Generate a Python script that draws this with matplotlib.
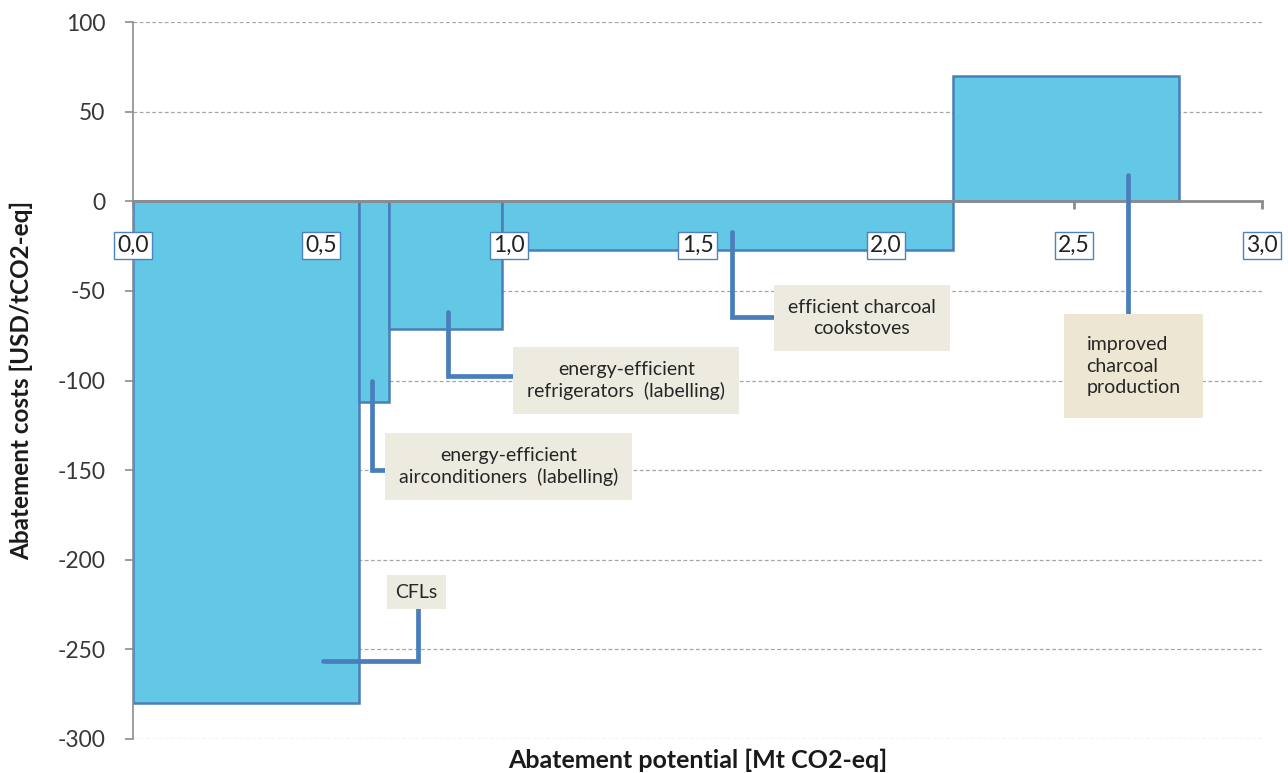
import matplotlib
matplotlib.use("Agg")
import matplotlib.pyplot as plt
import numpy as np

plt.rcParams['font.family'] = ['Lato', 'DejaVu Sans']

# Abatement measures (ordered by cost)
measures = ["CFLs",
            "energy-efficient\nairconditioners  (labelling)",
            "energy-efficient\nrefrigerators  (labelling)",
            "efficient charcoal\ncookstoves",
            "improved\ncharcoal\nproduction"]
potential = [0.60, 0.08, 0.30, 1.20, 0.60]      # Mt CO2-eq
cost = [-280, -112, -71, -27, 70]                # USD/tCO2-eq

x_ticks = [0.0, 0.5, 1.0, 1.5, 2.0, 2.5, 3.0]
x_tick_labels = ["0,0", "0,5", "1,0", "1,5", "2,0", "2,5", "3,0"]
y_ticks = [100, 50, 0, -50, -100, -150, -200, -250, -300]

# Leader-line paths (data coords) and label centres for each measure
leader_paths = [
    [(0.505, -256.6), (0.757, -256.6), (0.757, -227)],
    [(0.635, -100), (0.635, -150), (0.670, -150)],
    [(0.837, -62), (0.837, -97.6), (1.010, -97.6)],
    [(1.592, -17), (1.592, -64.7), (1.706, -64.7)],
    [(2.644, 14.5), (2.644, -64)],
]
label_pos = [(0.753, -218), (0.998, -148), (1.311, -100), (1.937, -65), (2.659, -92)]
label_align = ["center", "center", "center", "center", "left"]
label_pad = [0.45, 0.72, 0.72, 0.72, 1.15]
label_face = ["#edebe0", "#edebe0", "#edebe0", "#edebe0", "#ece6d2"]

fig = plt.figure(figsize=(12.88, 7.73), dpi=100)
ax = fig.add_axes([0.1033, 0.044, 0.9798 - 0.1033, 0.9715 - 0.044])
ax.set_axisbelow(True)

bar_fill = "#63c7e6"
bar_edge = "#4a7ebb"
lead_col = "#4a7ebb"

lefts = np.concatenate([[0], np.cumsum(potential)[:-1]])
ax.bar(lefts, cost, width=potential, align="edge", color=bar_fill,
       edgecolor=bar_edge, linewidth=1.8, zorder=2)

ax.set_xlim(0, 3.0)
ax.set_ylim(-300, 100)

# Gridlines
for yv in y_ticks:
    if yv != 0:
        ax.axhline(yv, color="#a6a6a6", lw=0.9, ls=(0, (3, 2)), zorder=0)

# Axes styling
for s in ["top", "right"]:
    ax.spines[s].set_visible(False)
ax.spines["bottom"].set_position(("data", 0))
ax.spines["bottom"].set_color("#8c8c8c")
ax.spines["bottom"].set_linewidth(2.0)
ax.spines["bottom"].set_zorder(3)
ax.spines["left"].set_color("#8c8c8c")
ax.spines["left"].set_linewidth(1.2)

ax.set_yticks(y_ticks)
ax.set_yticklabels([str(v) for v in y_ticks])
ax.tick_params(axis="y", direction="out", length=6, width=1.2, color="#8c8c8c",
               labelsize=16.5, labelcolor="#383838", pad=14)
ax.set_xticks(x_ticks)
ax.tick_params(axis="x", direction="out", length=6, width=2, color="#8c8c8c",
               labelbottom=False)

# Boxed category-axis labels sitting on top of the bars
for xv, lab in zip(x_ticks, x_tick_labels):
    ax.annotate(lab, xy=(xv, 0), xytext=(0, -31.7), textcoords="offset points",
                ha="center", va="center", fontsize=16.5, color="#222222", zorder=6,
                annotation_clip=False,
                bbox=dict(boxstyle="square,pad=0.14", facecolor="white",
                          edgecolor="#4f81bd", linewidth=1.0))

# Leader lines and labels
for path, txt, pos, ha, pad, fc in zip(leader_paths, measures, label_pos,
                                        label_align, label_pad, label_face):
    px, py = zip(*path)
    ax.plot(px, py, color=lead_col, lw=3.4, solid_capstyle="round",
            solid_joinstyle="miter", zorder=4)
    ax.text(pos[0], pos[1], txt, ha="center", va="center", multialignment=ha,
            fontsize=14, color="#262626", linespacing=1.3, zorder=5,
            bbox=dict(boxstyle=f"square,pad={pad}", facecolor=fc, edgecolor="none"))

fig.text(0.5418, 0.017, "Abatement potential [Mt CO2-eq]", ha="center", va="center",
         fontsize=18, fontweight="bold", color="#1a1a1a")
fig.text(0.017, 0.508, "Abatement costs [USD/tCO2-eq]", ha="center", va="center",
         rotation=90, fontsize=17.5, fontweight="bold", color="#1a1a1a")

fig.savefig("out.png", dpi=100)
